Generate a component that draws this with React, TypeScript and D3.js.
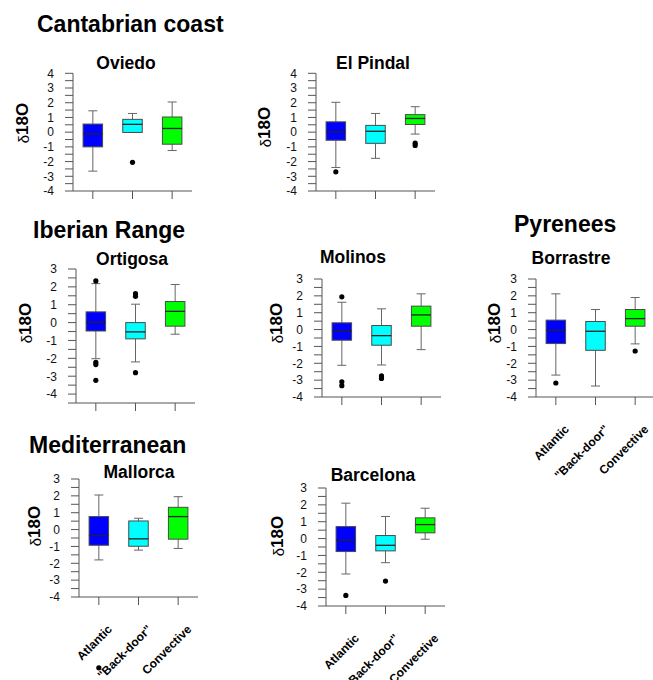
import React from "react";
import * as d3 from "d3";

const categories = ["Atlantic", "\"Back-door\"", "Convective"];
const colors = ["#0000ff", "#00ffff", "#00ff00"];

// each box: [lower whisker, Q1, median, Q3, upper whisker]
const oviedoBoxes = [
  [-2.65, -1.0, -0.12, 0.55, 1.45],
  [-0.02, -0.02, 0.53, 0.87, 1.27],
  [-1.25, -0.82, 0.25, 1.03, 2.05],
];
const oviedoOutliers = [[], [-2.05], []];

const elPindalBoxes = [
  [-2.4, -0.55, 0.02, 0.7, 2.03],
  [-1.78, -0.76, 0.06, 0.46, 1.27],
  [-0.13, 0.52, 0.93, 1.19, 1.73],
];
const elPindalOutliers = [[-2.7], [], [-0.75, -0.9]];

const ortigosaBoxes = [
  [-2.02, -0.47, 0.02, 0.6, 2.18],
  [-2.2, -0.91, -0.52, 0.0, 1.03],
  [-0.65, -0.2, 0.63, 1.18, 2.13],
];
const ortigosaOutliers = [[2.33, -2.22, -2.35, -3.23], [1.62, 1.47, -2.8], []];

const molinosBoxes = [
  [-2.12, -0.63, -0.1, 0.4, 1.62],
  [-2.1, -0.93, -0.36, 0.24, 1.23],
  [-1.19, 0.2, 0.87, 1.39, 2.12],
];
const molinosOutliers = [[1.94, -3.1, -3.33], [-2.75, -2.9], []];

const borrastreBoxes = [
  [-2.7, -0.83, -0.04, 0.56, 2.12],
  [-3.35, -1.23, -0.1, 0.48, 1.19],
  [-0.85, 0.2, 0.65, 1.19, 1.9],
];
const borrastreOutliers = [[-3.17], [], [-1.27]];

const mallorcaBoxes = [
  [-1.8, -0.93, -0.36, 0.77, 2.05],
  [-1.22, -0.99, -0.55, 0.51, 0.67],
  [-1.12, -0.57, 0.77, 1.32, 1.95],
];
const mallorcaOutliers = [[-8.2], [], []];

const barcelonaBoxes = [
  [-2.1, -0.77, -0.1, 0.71, 2.1],
  [-1.43, -0.73, -0.4, 0.18, 1.31],
  [-0.04, 0.34, 0.83, 1.23, 1.8],
];
const barcelonaOutliers = [[-3.37], [-2.52], []];

const sections = [
  { text: "Cantabrian coast", x: 37, y: 32 },
  { text: "Iberian Range", x: 33, y: 238 },
  { text: "Pyrenees", x: 514, y: 232 },
  { text: "Mediterranean", x: 29, y: 453 },
];

// layout of each small panel
const panels = [
  { name: "Oviedo", boxes: oviedoBoxes, outliers: oviedoOutliers, axisX: 73, yMin: -4, yMax: 4, top: 73.3, bottom: 191, tx: 126, ty: 69, lx: 22, ly: 123, cats: false },
  { name: "El Pindal", boxes: elPindalBoxes, outliers: elPindalOutliers, axisX: 316, yMin: -4, yMax: 4, top: 73.3, bottom: 191, tx: 373, ty: 69, lx: 264, ly: 127, cats: false },
  { name: "Ortigosa", boxes: ortigosaBoxes, outliers: ortigosaOutliers, axisX: 76, yMin: -4.5, yMax: 3, top: 269, bottom: 403, tx: 132, ty: 265, lx: 25, ly: 323, cats: false },
  { name: "Molinos", boxes: molinosBoxes, outliers: molinosOutliers, axisX: 322, yMin: -4, yMax: 3, top: 279, bottom: 397, tx: 353, ty: 263, lx: 276, ly: 323, cats: false },
  { name: "Borrastre", boxes: borrastreBoxes, outliers: borrastreOutliers, axisX: 536, yMin: -4, yMax: 3, top: 279, bottom: 397, tx: 571, ty: 264, lx: 494, ly: 323, cats: true },
  { name: "Mallorca", boxes: mallorcaBoxes, outliers: mallorcaOutliers, axisX: 79, yMin: -4, yMax: 3, top: 479, bottom: 597, tx: 139, ty: 478, lx: 34, ly: 526, cats: true },
  { name: "Barcelona", boxes: barcelonaBoxes, outliers: barcelonaOutliers, axisX: 326, yMin: -4, yMax: 3, top: 488, bottom: 606, tx: 373, ty: 481, lx: 277, ly: 536, cats: true },
];

const font = "'Liberation Sans', Arial, Helvetica, sans-serif";

const Panel = ({ p }) => {
  const y = d3.scaleLinear().domain([p.yMin, p.yMax]).range([p.bottom, p.top]);
  const x = d3.scaleLinear().domain([0.5, 3.5]).range([p.axisX, p.axisX + 119]);
  const minor = d3.range(p.yMin, p.yMax + 0.001, 0.5);
  const major = d3.range(Math.ceil(p.yMin), p.yMax + 0.001, 1);
  const bw = 19.5;
  const sw = 9;

  return (
    <g>
      <text x={p.tx} y={p.ty} textAnchor="middle" fontWeight="bold" fontSize={17.5}>
        {p.name}
      </text>
      {/* y axis */}
      <line x1={p.axisX} x2={p.axisX} y1={y(p.yMax)} y2={y(p.yMin)} stroke="#555" />
      {minor.map((v) => (
        <line key={"m" + v} x1={p.axisX - 8} x2={p.axisX} y1={y(v)} y2={y(v)} stroke="#555" />
      ))}
      {major.map((v) => (
        <text key={"l" + v} x={p.axisX - 19} y={y(v)} dy="0.36em" textAnchor="end" fontSize={12} fill="#111">
          {v}
        </text>
      ))}
      {/* x axis */}
      <line x1={p.axisX} x2={p.axisX + 119} y1={p.bottom} y2={p.bottom} stroke="#555" />
      {categories.map((c, i) => (
        <line key={"t" + i} x1={x(i + 1)} x2={x(i + 1)} y1={p.bottom} y2={p.bottom + 8} stroke="#555" />
      ))}
      {p.cats &&
        categories.map((c, i) => (
          <text
            key={"c" + i}
            transform={`translate(${x(i + 1) + 14},${p.bottom + 33}) rotate(-45)`}
            textAnchor="end"
            fontWeight="bold"
            fontSize={12}
          >
            {c}
          </text>
        ))}
      <text transform={`translate(${p.lx + 6},${p.ly}) rotate(-90)`} textAnchor="middle">
        <tspan fontSize={15} dy={1}>δ</tspan>
        <tspan fontSize={17} fontWeight="bold" dy={-1}>18O</tspan>
      </text>
      {/* boxes */}
      {p.boxes.map((b, i) => {
        const cx = x(i + 1);
        const [lo, q1, med, q3, hi] = b;
        return (
          <g key={"b" + i}>
            <line x1={cx} x2={cx} y1={y(q3)} y2={y(hi)} stroke="#666" />
            <line x1={cx} x2={cx} y1={y(q1)} y2={y(lo)} stroke="#666" />
            <line x1={cx - sw / 2} x2={cx + sw / 2} y1={y(hi)} y2={y(hi)} stroke="#666" />
            <line x1={cx - sw / 2} x2={cx + sw / 2} y1={y(lo)} y2={y(lo)} stroke="#666" />
            <rect
              x={cx - bw / 2}
              y={y(q3)}
              width={bw}
              height={y(q1) - y(q3)}
              fill={colors[i]}
              stroke="#4a4a4a"
            />
            <line x1={cx - bw / 2} x2={cx + bw / 2} y1={y(med)} y2={y(med)} stroke="#222" strokeWidth={1.3} />
            {p.outliers[i].map((o, j) => (
              <circle key={j} cx={cx} cy={y(o)} r={2.6} fill="#000" />
            ))}
          </g>
        );
      })}
    </g>
  );
};

const App = () => {
  return (
    <svg
      width={653}
      height={680}
      style={{ position: "absolute", left: 0, top: 0, background: "#fff" }}
      fontFamily={font}
    >
      {sections.map((s) => (
        <text key={s.text} x={s.x} y={s.y} fontWeight="bold" fontSize={23}>
          {s.text}
        </text>
      ))}
      {panels.map((p) => (
        <Panel key={p.name} p={p} />
      ))}
    </svg>
  );
};

export default App;
